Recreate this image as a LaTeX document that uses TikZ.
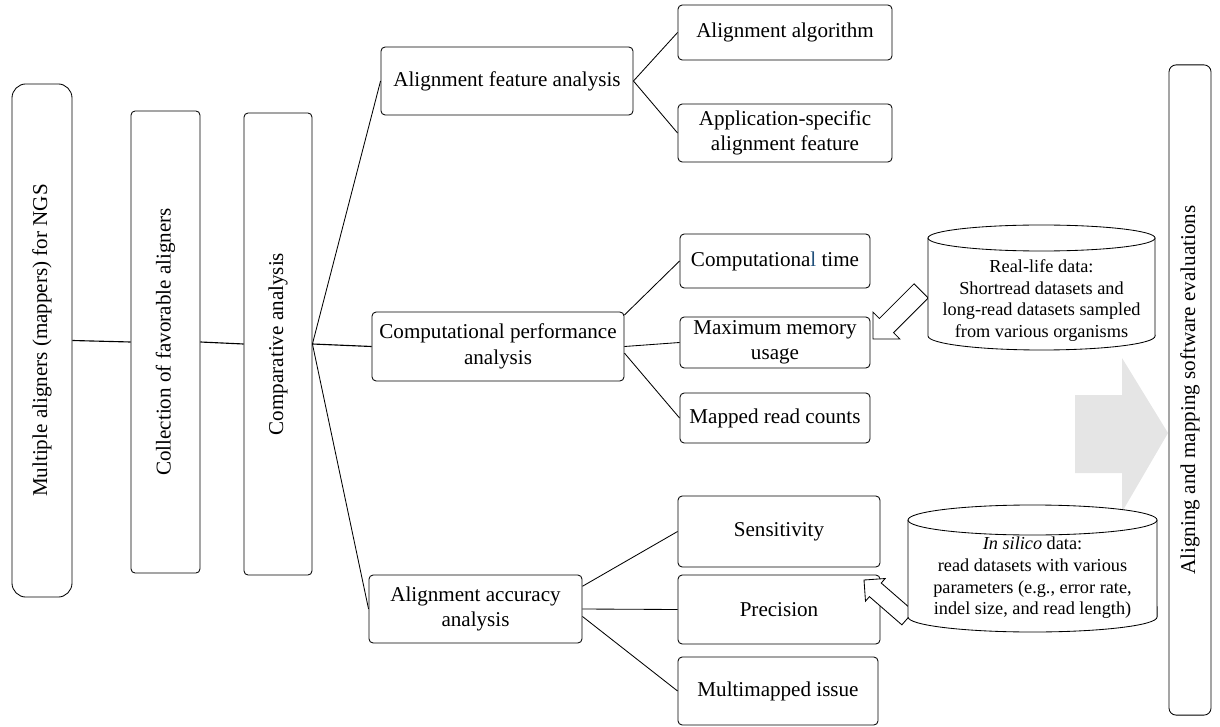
\documentclass[tikz,border=0pt]{standalone}
\usepackage{fontspec}
\setmainfont{Liberation Serif}
\usetikzlibrary{calc}

\definecolor{typoblue}{RGB}{31,78,121}

\tikzset{
  box/.style={draw, rounded corners=3pt, align=center, inner sep=2pt,
    line width=0.6pt, font=\fontsize{15}{18}\selectfont},
  tallbox/.style={box, rotate=90},
  datatext/.style={align=center, inner sep=0pt, font=\fontsize{13}{15.4}\selectfont},
  cyl/.style={draw, fill=white, line width=0.6pt},
  blockarrow/.style={draw, fill=white, line width=0.6pt, line join=miter},
  link/.style={line width=0.6pt},
}

\begin{document}
\begin{tikzpicture}[x=0.025cm, y=-0.025cm]
    \useasboundingbox (0,0) rectangle (1220,727);

    % Left column of tall boxes
    \node[tallbox, rounded corners=10pt, minimum width=12.825cm, minimum height=1.5cm] (multi) at (42,340.5) {Multiple aligners (mappers) for NGS};
    \node[tallbox, minimum width=11.55cm, minimum height=1.725cm] (collect) at (165.5,342) {Collection of favorable aligners};
    \node[tallbox, minimum width=11.55cm, minimum height=1.7cm] (compar) at (278,344) {Comparative analysis};

    \draw[thick] (multi.south) -- (collect.north);
    \draw[thick] (collect.south) -- (compar.north);

    % Three analyses
    \node[box, minimum width=6.3cm, minimum height=1.7cm] (feat) at (507,81) {Alignment feature analysis};
    \node[box, minimum width=6.3cm, minimum height=1.725cm] (perf) at (498,346.5) {Computational performance\\analysis};
    \node[box, minimum width=5.325cm, minimum height=1.7cm] (accu) at (475.5,609) {Alignment accuracy\\analysis};

    \draw[link] (compar.south) -- (feat.west);
    \draw[thick] (compar.south) -- (perf.west);
    \draw[link] (compar.south) -- (accu.west);

    % Feature items
    \node[box, minimum width=5.35cm, minimum height=1.375cm] (algo) at (785,32.5) {Alignment algorithm};
    \node[box, minimum width=5.35cm, minimum height=1.45cm] (appl) at (785,133) {Application-specific\\alignment feature};
    \draw[link] (feat.east) -- (algo.west);
    \draw[link] (feat.east) -- (appl.west);

    % Performance items
    \node[box, minimum width=4.75cm, minimum height=1.35cm] (ctime) at (775,261) {Computationa\textcolor{typoblue}{l} time};
    \node[box, minimum width=4.75cm, minimum height=1.275cm] (memo) at (775,342.5) {Maximum memory\\usage};
    \node[box, minimum width=4.75cm, minimum height=1.25cm] (mapped) at (775,418) {Mapped read counts};
    \draw[link] (perf.14) -- (ctime.west);
    \draw[link] (perf.east) -- (memo.west);
    \draw[link] (perf.-3) -- (mapped.west);

    % Accuracy items
    \node[box, minimum width=5.05cm, minimum height=1.775cm] (sens) at (779,531.5) {Sensitivity};
    \node[box, minimum width=5.05cm, minimum height=1.725cm] (prec) at (779,609.5) {Precision};
    \node[box, minimum width=5.0cm, minimum height=1.7cm] (multimap) at (778,691) {Multimapped issue};
    \draw[link] (accu.12) -- (sens.west);
    \draw[link] (accu.east) -- (prec.west);
    \draw[link] (accu.-4) -- (multimap.west);

    % Final evaluation box and the big gray arrow
    \node[tallbox, rounded corners=5pt, minimum width=16.25cm, minimum height=1.05cm] (eval) at (1190,390) {Aligning and mapping software evaluations};
    \fill[gray!20] (1075,395) -- (1122,395) -- (1122,358) -- (1168,433) -- (1122,512) -- (1122,473) -- (1075,473) -- cycle;

    % Block arrows from the data sets
    \coordinate (tipreal) at (873,339);
    \coordinate (tipsilico) at (864,580);
    \begin{scope}[shift={(tipreal)}, rotate=45]
        \draw[blockarrow] (0,0) -- (19,-19) -- (19,-10) -- (68,-10) -- (68,10) -- (19,10) -- (19,19) -- cycle;
    \end{scope}
    \begin{scope}[shift={(tipsilico)}, rotate=-41]
        \draw[blockarrow] (0,0) -- (15,-15) -- (15,-9) -- (58,-9) -- (58,9) -- (15,9) -- (15,15) -- cycle;
    \end{scope}

    % Data cylinders
    \draw[cyl] (928,238) -- (928,336) arc[start angle=180, end angle=360, x radius=2.8375cm, y radius=0.35cm] -- (1155,238);
    \draw[cyl] (1041.5,238) ellipse [x radius=2.8375cm, y radius=0.325cm];
    \node[datatext] (reallife) at (1041.5,300.5) {Real-life data:\\Shortread datasets and\\long-read datasets sampled\\from various organisms};

    \draw[cyl] (908,520) -- (908,617) arc[start angle=180, end angle=360, x radius=3.1125cm, y radius=0.375cm] -- (1157,520);
    \draw[cyl] (1032.5,520) ellipse [x radius=3.1125cm, y radius=0.375cm];
    \node[datatext] (insilico) at (1032.5,578) {\textit{In silico} data:\\read datasets with various\\parameters (e.g., error rate,\\indel size, and read length)};
\end{tikzpicture}
\end{document}
